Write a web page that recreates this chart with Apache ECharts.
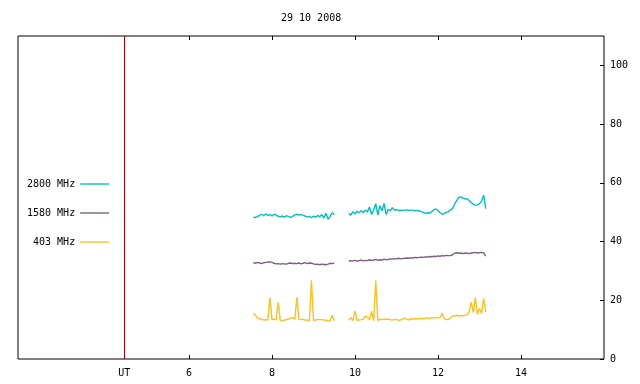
<!DOCTYPE html>
<html>
<head>
<meta charset="utf-8">
<script src="https://cdn.jsdelivr.net/npm/echarts@6/dist/echarts.min.js"></script>
<style>
  html, body { margin: 0; padding: 0; background: #fff; }
  #chart { width: 640px; height: 384px; }
</style>
</head>
<body>
<div id="chart"></div>
<script>
// samples every 0.05 h, two recording segments
const step = 0.05
const seg1Start = 7.55
const seg2Start = 9.85
const utMarker = 4.44
const xTicks = [6, 8, 10, 12, 14]
const yTicks = [0, 20, 40, 60, 80, 100]

const mhz2800a = [48.3, 48.2, 48.5, 48.9, 49.3, 48.8, 49.4, 48.9, 49.2, 48.7,
	49.3, 49.0, 48.6, 48.4, 48.7, 48.3, 48.8, 48.5, 48.2, 48.6,
	49.1, 49.3, 49.0, 49.2, 48.9, 48.7, 48.3, 48.6, 48.1, 48.7,
	48.3, 48.9, 48.4, 49.2, 48.0, 49.6, 47.6, 48.6, 49.8, 49.1]
const mhz2800b = [49.6, 49.0, 50.2, 49.4, 50.3, 49.8, 50.5, 49.9, 50.7, 50.1,
	51.8, 49.2, 50.8, 52.9, 49.0, 52.2, 50.4, 53.0, 49.2, 51.0,
	50.5, 51.5, 50.7, 50.9, 50.6, 50.7, 50.6, 50.7, 50.8, 50.6,
	50.7, 50.7, 50.5, 50.6, 50.4, 50.2, 49.9, 49.6, 49.8, 49.7,
	50.2, 50.8, 51.1, 50.6, 49.8, 49.3, 49.5, 49.9, 50.2, 50.8,
	51.2, 52.8, 53.9, 55.0, 55.2, 54.8, 54.5, 54.6, 54.0, 53.3,
	52.7, 52.4, 52.5, 52.9, 53.8, 55.8, 51.2]

const mhz1580a = [32.8, 32.6, 32.9, 32.7, 32.5, 32.8, 32.9, 33.0, 33.1, 32.9,
	32.6, 32.4, 32.5, 32.3, 32.5, 32.4, 32.3, 32.6, 32.7, 32.5,
	32.6, 32.5, 32.7, 32.4, 32.6, 32.8, 32.5, 32.7, 32.6, 32.4,
	32.2, 32.3, 32.1, 32.3, 32.2, 32.1, 32.3, 32.6, 32.5, 32.7]
const mhz1580b = [33.3, 33.5, 33.4, 33.6, 33.3, 33.5, 33.7, 33.4, 33.6, 33.5,
	33.8, 33.5, 33.7, 33.9, 33.6, 33.8, 33.7, 34.0, 33.8, 33.9,
	34.1, 34.0, 34.2, 34.1, 34.3, 34.1, 34.2, 34.3, 34.4, 34.3,
	34.5, 34.4, 34.6, 34.5, 34.6, 34.7, 34.6, 34.8, 34.7, 34.9,
	34.8, 35.0, 34.9, 35.1, 35.0, 35.2, 35.1, 35.3, 35.2, 35.2,
	35.5, 36.0, 36.2, 36.0, 36.1, 35.9, 36.1, 36.0, 35.9, 36.1,
	36.2, 36.3, 36.1, 36.2, 36.3, 36.2, 35.0]

const mhz403a = [15.6, 14.9, 14.0, 13.7, 13.5, 13.3, 13.4, 13.3, 21.0, 13.4,
	13.6, 13.3, 19.3, 13.1, 13.0, 13.2, 13.5, 13.6, 13.9, 14.1,
	13.6, 21.0, 13.5, 13.4, 13.6, 13.2, 13.3, 13.0, 26.8, 13.1,
	13.3, 13.4, 13.5, 13.4, 13.3, 13.2, 13.0, 13.1, 14.9, 13.0]
const mhz403b = [13.2, 14.1, 13.1, 16.3, 13.2, 13.3, 13.4, 13.6, 14.6, 14.2,
	13.4, 16.3, 13.0, 26.8, 13.1, 13.5, 13.4, 13.6, 13.5, 13.6,
	13.4, 13.3, 13.4, 13.5, 13.2, 13.3, 13.6, 13.9, 13.5, 13.3,
	13.7, 13.6, 13.8, 13.6, 13.9, 13.7, 13.8, 13.9, 14.0, 13.8,
	14.1, 13.9, 14.2, 14.0, 14.1, 15.6, 13.8, 13.4, 13.5, 14.0,
	14.7, 14.6, 14.9, 14.6, 14.8, 14.7, 14.9, 15.1, 16.0, 19.4,
	15.8, 20.9, 15.2, 17.2, 15.5, 20.6, 16.0]

const font = 'DejaVu Sans Mono'

// two segments joined by a gap
const toPoints = (a, b) => {
	const pts = a.map((v, i) => [seg1Start + i * step, v])
	pts.push([(seg1Start + (a.length - 1) * step + seg2Start) / 2, null])
	return pts.concat(b.map((v, i) => [seg2Start + i * step, v]))
}

const lineSeries = (name, color, a, b) => ({
	name: name,
	type: 'line',
	symbol: 'none',
	connectNulls: false,
	data: toPoints(a, b),
	lineStyle: { color: color, width: 1.4 },
	itemStyle: { color: color },
})

const legendAt = (name, top) => ({
	data: [name],
	orient: 'vertical',
	left: 27,
	top: top,
	padding: 0,
	align: 'right',
	itemWidth: 29,
	itemHeight: 10,
	itemStyle: { opacity: 0 },
	lineStyle: { width: 1.4 },
	formatter: (n) => n.padStart(8, ' '),
	textStyle: { fontFamily: font, fontSize: 10, color: '#000' },
})

const chart = echarts.init(document.getElementById('chart'), null, { renderer: 'canvas' })
const series = [
	lineSeries('2800 MHz', '#00c0c0', mhz2800a, mhz2800b),
	lineSeries('1580 MHz', '#806080', mhz1580a, mhz1580b),
	lineSeries('403 MHz', '#ffc020', mhz403a, mhz403b),
]
series[0].markLine = {
	silent: true,
	symbol: 'none',
	label: { show: false },
	lineStyle: { color: '#a00000', width: 1, type: 'solid' },
	data: [{ xAxis: utMarker }],
}

chart.setOption({
	animation: false,
	backgroundColor: '#fff',
	title: {
		text: '29 10 2008',
		left: 281,
		top: 13,
		padding: 0,
		textStyle: { fontFamily: font, fontSize: 10, fontWeight: 'normal', color: '#000' },
	},
	legend: [
		legendAt('2800 MHz', 179),
		legendAt('1580 MHz', 208),
		legendAt('403 MHz', 237),
	],
	grid: {
		left: 18,
		top: 36,
		width: 586,
		height: 323,
		show: true,
		borderColor: '#000',
		borderWidth: 1,
		backgroundColor: 'transparent',
	},
	xAxis: [
		{
			type: 'value',
			position: 'bottom',
			min: 1.88,
			max: 16,
			axisLine: { show: false },
			splitLine: { show: false },
			axisTick: { inside: true, length: 4, lineStyle: { color: '#000' }, customValues: xTicks },
			axisLabel: {
				margin: 9,
				fontFamily: font,
				fontSize: 10,
				color: '#000',
				customValues: [utMarker].concat(xTicks),
				formatter: (v) => (v === utMarker ? 'UT' : String(v)),
			},
		},
		{
			type: 'value',
			position: 'top',
			min: 1.88,
			max: 16,
			axisLine: { show: false },
			splitLine: { show: false },
			axisTick: { inside: true, length: 4, lineStyle: { color: '#000' }, customValues: xTicks },
			axisLabel: { show: false },
		},
	],
	yAxis: {
		type: 'value',
		position: 'right',
		min: 0,
		max: 110,
		axisLine: { show: false },
		splitLine: { show: false },
		axisTick: { inside: true, length: 4, lineStyle: { color: '#000' }, customValues: yTicks },
		axisLabel: {
			margin: 6,
			fontFamily: font,
			fontSize: 10,
			color: '#000',
			customValues: yTicks,
		},
	},
	series: series,
})
</script>
</body>
</html>
